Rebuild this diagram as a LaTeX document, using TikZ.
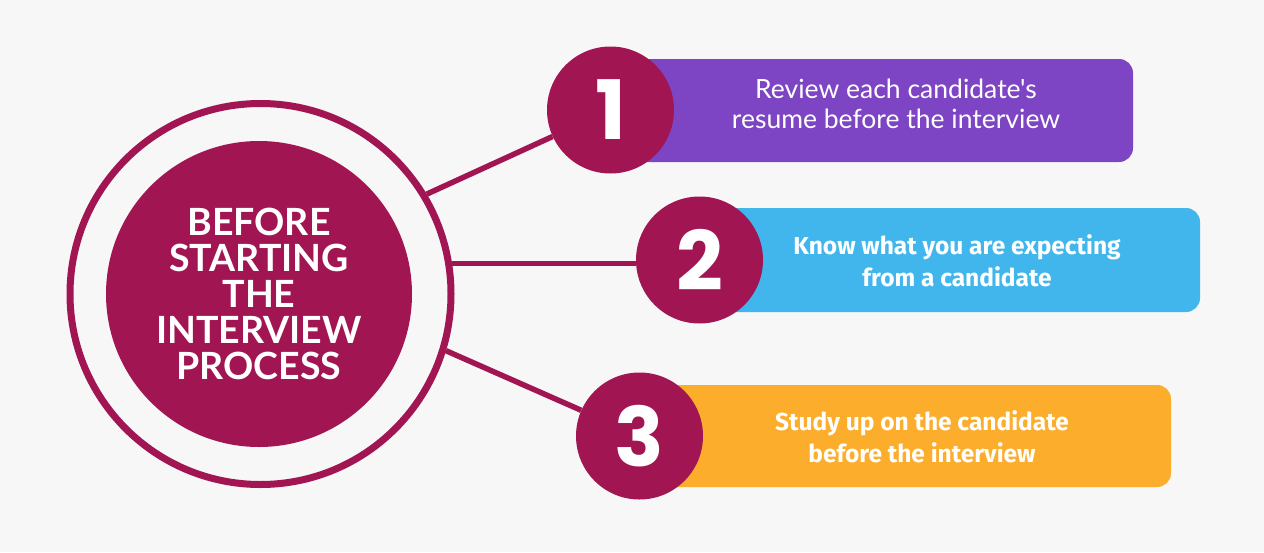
\documentclass[tikz,border=0pt]{standalone}
\usepackage{fontspec}
\setmainfont{Lato}
\newfontfamily\numfont{Poppins}
\newfontfamily\boxreg{Lato}[Ligatures=TeXOff]
\newfontfamily\boxbold{Fira Sans}
\definecolor{bg}{HTML}{F7F7F7}
\definecolor{maroon}{HTML}{A11652}
\definecolor{purp}{HTML}{7D44C4}
\definecolor{sky}{HTML}{41B6EC}
\definecolor{amber}{HTML}{FCAD2C}
\tikzset{
  conn/.style={draw=maroon, line width=5.5pt},
  numcirc/.style={circle, fill=maroon, minimum size=127pt, inner sep=0pt, text=white,
    font=\numfont\bfseries\fontsize{82}{82}\selectfont},
  stepbox/.style={rounded corners=14pt, inner sep=0pt},
  boxtext/.style={text=white, align=center, inner sep=0pt},
}
\begin{document}
\begin{tikzpicture}[x=1pt,y=-1pt]
\fill[bg] (0,0) rectangle (1264,552);
\useasboundingbox (0,0) rectangle (1264,552);
% big circle
\node[circle, draw=maroon, line width=7pt, minimum size=381pt, inner sep=0pt] (ring) at (260.5,294) {};
\node[circle, fill=maroon, minimum size=306pt, inner sep=0pt, text=white, align=center,
  font=\bfseries\fontsize{37.5}{36}\selectfont] (title) at (259,294)
  {BEFORE\\STARTING\\THE\\INTERVIEW\\PROCESS};
% number circles positions
\coordinate (c1) at (610.5,110);
\coordinate (c2) at (699.5,260);
\coordinate (c3) at (639.5,436);
% boxes
\fill[purp, stepbox] (610.5,59) rectangle (1133,162);
\fill[sky, stepbox] (699.5,208) rectangle (1200,312);
\fill[amber, stepbox] (639.5,385) rectangle (1171,487);
\node[boxtext, font=\boxreg\fontsize{26.5}{30}\selectfont] (t1) at (896,104) {Review each candidate's\\resume before the interview};
\node[boxtext, font=\boxbold\bfseries\fontsize{24.5}{32}\selectfont] (t2) at (957,261) {Know what you are expecting\\from a candidate};
\node[boxtext, font=\boxbold\bfseries\fontsize{24.5}{32}\selectfont] (t3) at (922,437) {Study up on the candidate\\before the interview};
% number circles
\node[numcirc] (n1) at (c1) {1};
\node[numcirc] (n2) at (c2) {2};
\node[numcirc] (n3) at (c3) {3};
% connectors
\draw[conn] (ring.31.5) -- (n1);
\draw[conn] (ring.9.7) -- (n2.west |- ring.9.7);
\draw[conn] (ring.-17.7) -- (n3);
\end{tikzpicture}
\end{document}
